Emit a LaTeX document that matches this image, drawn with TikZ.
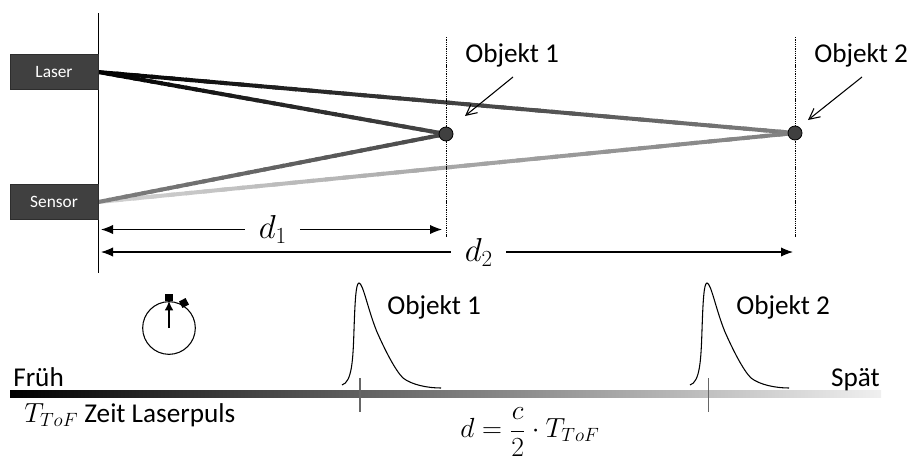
\documentclass[tikz,border=0pt]{standalone}
\usepackage{fontspec}
\setmainfont{Carlito}
\usepackage{tikz}
\usetikzlibrary{arrows.meta,calc,backgrounds}

\definecolor{boxgray}{HTML}{404040}

\tikzset{
  device/.style={draw=boxgray!70!black, fill=boxgray, text=white, minimum width=66pt, minimum height=26pt, inner sep=0pt, font=\fontsize{13}{15}\selectfont},
  target/.style={circle, draw=black, fill=boxgray, minimum size=10.5pt, inner sep=0pt, line width=0.6pt},
  textlabel/.style={inner sep=0pt, font=\fontsize{20.4}{22}\selectfont},
  guide/.style={dash pattern=on 1pt off 0.7pt, line width=0.6pt},
  measure/.style={{Latex[length=9pt,width=7pt]}-{Latex[length=9pt,width=7pt]}, line width=0.8pt},
  pointer/.style={-{Straight Barb[length=8pt,width=8pt]}, line width=0.8pt},
  tickline/.style={draw=black!60, line width=0.9pt},
  pulse/.pic={
    \draw[line width=0.8pt] (0,0) .. controls (10,-3) and (11,-25) .. (12,-55)
      .. controls (13,-85) and (14,-102) .. (17,-102)
      .. controls (21,-102) and (26,-75) .. (35,-53)
      .. controls (43,-35) and (53,-15) .. (61,-7)
      .. controls (70,0) and (86,3) .. (99,3);
  }
}

% Strahl mit Farbverlauf (Schwarzanteil von #3 nach #4)
\newcommand{\verlauf}[4]{
  \foreach \i in {0,...,39} {
    \pgfmathsetmacro\mix{#3+(#4-#3)*\i/39}
    \draw[line width=3pt, color=black!\mix] ($(#1)!\i/40!(#2)$) -- ($(#1)!{min(\i+1.4,40)/40}!(#2)$);
  }
}

\begin{document}
\begin{tikzpicture}[x=0.75pt,y=-0.75pt]
  \useasboundingbox (0,0) rectangle (909,461);

  % Wand mit Laser und Sensor
  \coordinate (walltop) at (98,13);
  \coordinate (wallbot) at (98,273);
  \draw[line width=0.6pt] (walltop) -- (wallbot);
  \node[device] (laser) at (54,72) {Laser};
  \node[device] (sensor) at (54,202) {Sensor};

  % Objekte
  \coordinate (guide1top) at (446,37);
  \coordinate (guide1bot) at (446,237);
  \coordinate (guide2top) at (795,37);
  \coordinate (guide2bot) at (795,237);
  \draw[guide] (guide1top) -- (guide1bot);
  \draw[guide] (guide2top) -- (guide2bot);
  \node[target] (obj1) at (446,134) {};
  \node[target] (obj2) at (795,133) {};

  % Strahlen
  \begin{pgfonlayer}{background}
    \verlauf{laser.east}{obj2.center}{100}{50}
    \verlauf{sensor.east}{obj2.center}{18}{50}
    \verlauf{laser.east}{obj1.center}{100}{72}
    \verlauf{sensor.east}{obj1.center}{50}{72}
  \end{pgfonlayer}

  \node[textlabel, anchor=west] (name1) at (465,55) {Objekt 1};
  \node[textlabel, anchor=west] (name2) at (814,55) {Objekt 2};
  \coordinate (start1) at (513,77);
  \coordinate (start2) at (862,77);
  \coordinate (tip1) at (465,116);
  \coordinate (tip2) at (808,120);
  \draw[pointer] (start1) -- (tip1);
  \draw[pointer] (start2) -- (tip2);

  % Abstaende
  \coordinate (d1left) at (101,229.5);
  \coordinate (d1right) at (442,229.5);
  \coordinate (d2left) at (101,252);
  \coordinate (d2right) at (793,252);
  \draw[measure] (d1left) -- node[textlabel, fill=white, inner xsep=10pt, inner ysep=0pt, pos=0.504, font=\fontsize{24}{26}\selectfont] (d1) {$d_1$} (d1right);
  \draw[measure] (d2left) -- node[textlabel, fill=white, inner xsep=10pt, inner ysep=0pt, pos=0.546, font=\fontsize{24}{26}\selectfont] (d2) {$d_2$} (d2right);

  % Stoppuhr
  \node[circle, draw, minimum size=39.5pt, inner sep=0pt, line width=0.8pt] (clock) at (169,328) {};
  \draw[-{Latex[length=7pt,width=6.5pt]}, line width=0.8pt] (clock.center) -- (clock.north);
  \node[fill=black, minimum size=5.5pt, inner sep=0pt, anchor=south] (knob1) at (clock.north) {};
  \node[fill=black, minimum size=5.5pt, inner sep=0pt, rotate=28] (knob2) at (184,303) {};

  % Zeitachse
  \shade[left color=black, right color=black!6] (10,390) rectangle (881,397);
  \node[textlabel, anchor=base west] (frueh) at (13,386) {Früh};
  \node[textlabel, anchor=base east] (spaet) at (880,386) {Spät};

  \pic at (342,385) {pulse};
  \pic at (690,385) {pulse};
  \node[textlabel, anchor=west] (puls1) at (387,307) {Objekt 1};
  \node[textlabel, anchor=west] (puls2) at (736,307) {Objekt 2};
  \coordinate (tick1top) at (360,378);
  \coordinate (tick1bot) at (360,412);
  \coordinate (tick2top) at (708.5,378);
  \coordinate (tick2bot) at (708.5,412);
  \draw[tickline] (tick1top) -- (tick1bot);
  \draw[tickline] (tick2top) -- (tick2bot);

  \node[textlabel, anchor=west] (ttof) at (24,415) {$T_{ToF}$ Zeit Laserpuls};
  \node[textlabel, anchor=center] (formel) at (530,432) {$\displaystyle d=\frac{c}{2}\cdot T_{ToF}$};
\end{tikzpicture}
\end{document}
